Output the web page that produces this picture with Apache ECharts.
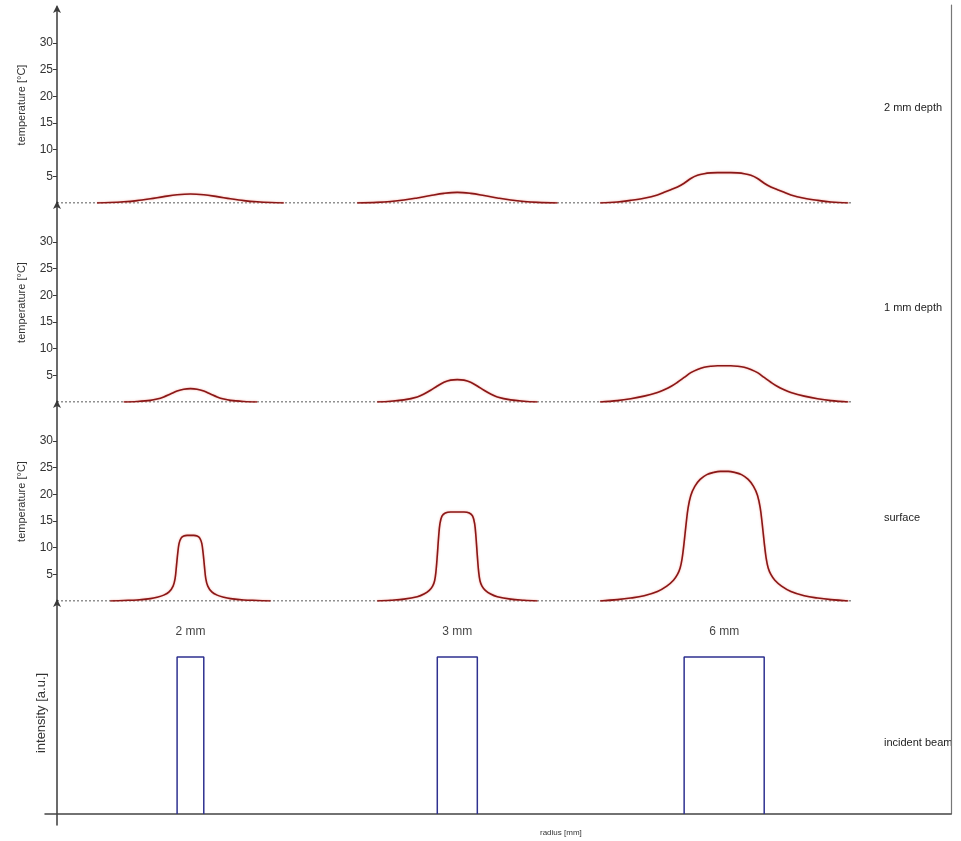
<!DOCTYPE html>
<html>
<head>
<meta charset="utf-8">
<script src="https://cdn.jsdelivr.net/npm/echarts@6/dist/echarts.min.js"></script>
<style>
html,body{margin:0;padding:0;background:#fff;}
#chart{width:961px;height:841px;}
</style>
</head>
<body>
<div id="chart"></div>
<script>
// ---------- data ----------
const beamCenters = [10, 30, 50];          // radius position of each beam [mm]
const beamWidths  = [2, 3, 6];             // beam diameters [mm]
const beamLabels  = ['2 mm', '3 mm', '6 mm'];
const beamIntensity = 1;
const panelNames  = ['2 mm depth', '1 mm depth', 'surface', 'incident beam'];
const tempTicks   = [5, 10, 15, 20, 25, 30];
const baselineEnd = 59.6;

// half profiles (offset from beam centre [mm], temperature [°C]); mirrored to the right
const d2_off = [
  [-7, -6, -5, -4, -3, -2, -1, 0],
  [-7.5, -6, -5, -4, -3, -2, -1, 0],
  [-9.3, -8, -7, -6, -5, -4.5, -4, -3.5, -3, -2.5, -2, -1.5, -1, -0.5, 0]
];
const d2_val = [
  [0, 0.08, 0.22, 0.45, 0.8, 1.2, 1.55, 1.7],
  [0, 0.12, 0.28, 0.55, 0.95, 1.4, 1.8, 2.0],
  [0, 0.2, 0.5, 0.9, 1.5, 2.0, 2.5, 3.0, 3.7, 4.6, 5.2, 5.5, 5.65, 5.7, 5.7]
];
const d1_off = [
  [-5, -4, -3, -2.5, -2, -1.5, -1, -0.5, 0],
  [-6, -5, -4, -3, -2.5, -2, -1.5, -1, -0.5, 0],
  [-9.3, -8, -7, -6, -5, -4.5, -4, -3.5, -3, -2.5, -2, -1.5, -1, -0.5, 0]
];
const d1_val = [
  [0, 0.1, 0.3, 0.55, 0.95, 1.5, 2.05, 2.4, 2.5],
  [0, 0.15, 0.4, 0.95, 1.5, 2.2, 3.0, 3.7, 4.1, 4.2],
  [0, 0.25, 0.6, 1.1, 1.8, 2.3, 2.9, 3.7, 4.6, 5.5, 6.1, 6.5, 6.7, 6.8, 6.8]
];
const sf_off = [
  [-6, -5, -4, -3, -2.5, -2, -1.6, -1.3, -1.15, -1.05, -0.95, -0.85, -0.7, -0.5, -0.25, 0],
  [-6, -5, -4, -3, -2.5, -2.1, -1.85, -1.7, -1.6, -1.5, -1.4, -1.3, -1.15, -0.9, -0.5, 0],
  [-9.3, -8, -7, -6, -5, -4.3, -3.8, -3.5, -3.3, -3.15, -3.0, -2.85, -2.7, -2.5, -2.2, -1.8, -1.3, -0.8, -0.3, 0]
];
const sf_val = [
  [0, 0.1, 0.2, 0.45, 0.7, 1.1, 1.7, 2.8, 4.2, 6.5, 9, 10.8, 11.8, 12.2, 12.3, 12.3],
  [0, 0.15, 0.35, 0.8, 1.3, 2.0, 2.8, 3.8, 5.5, 8.5, 12, 14.5, 15.9, 16.5, 16.7, 16.7],
  [0, 0.25, 0.55, 1.0, 1.8, 2.8, 3.9, 5.0, 6.2, 8, 11, 14.5, 17.5, 19.8, 21.5, 22.8, 23.7, 24.1, 24.3, 24.3]
];

// ---------- build ----------
function profile(center, offs, vals) {
  const left = offs.map((o, i) => [center + o, vals[i]]);
  const right = [];
  for (let i = offs.length - 2; i >= 0; i--) right.push([center - offs[i], vals[i]]);
  return left.concat(right);
}
const FONT = 'Liberation Sans, Arial, sans-serif';
const curveColor = '#8a1717';
const beamColor = '#2e3190';
const axisColor = '#3a3a3a';

const tempPanels = [
  {top: 7,   height: 196, max: 196 / 5.333, off: d2_off, val: d2_val},
  {top: 203, height: 199, max: 199 / 5.333, off: d1_off, val: d1_val},
  {top: 402, height: 199, max: 199 / 5.333, off: sf_off, val: sf_val}
];

const grid = [], xAxis = [], yAxis = [], series = [];
tempPanels.forEach((p, k) => {
  grid.push({left: 57, right: 10, top: p.top, height: p.height});
  xAxis.push({type: 'value', gridIndex: k, min: 0, max: 67, show: false});
  yAxis.push({
    type: 'value', gridIndex: k, min: 0, max: p.max,
    name: 'temperature [°C]', nameLocation: 'middle', nameGap: 30,
    nameTextStyle: {fontFamily: FONT, fontSize: 11, color: '#333'},
    axisLine: {show: true, onZero: false, symbol: ['none', 'arrow'], symbolSize: [6, 8], symbolOffset: [0, 2],
               lineStyle: {color: axisColor, width: 1.5}},
    axisTick: {show: true, length: 4, customValues: tempTicks, lineStyle: {color: axisColor}},
    axisLabel: {show: true, customValues: tempTicks, margin: 4, fontFamily: FONT, fontSize: 12, color: '#333'},
    splitLine: {show: false}
  });
  series.push({
    type: 'line', xAxisIndex: k, yAxisIndex: k, showSymbol: false, silent: true,
    data: [[0, 0], [baselineEnd, 0]],
    lineStyle: {color: '#222', width: 1, type: [2, 2]}, z: 1
  });
  beamCenters.forEach((c, j) => {
    series.push({
      type: 'line', xAxisIndex: k, yAxisIndex: k, showSymbol: false, smooth: 0.35, silent: true,
      data: profile(c, p.off[j], p.val[j]),
      lineStyle: {color: curveColor, width: 1.6, shadowColor: 'rgba(230,90,70,0.55)', shadowBlur: 2},
      z: 3
    });
  });
});

// beam panel
grid.push({left: 45, right: 10, top: 601, height: 224});
xAxis.push({
  type: 'value', gridIndex: 3, min: -0.9, max: 67,
  axisLine: {show: true, onZero: true, lineStyle: {color: '#444', width: 1.5}},
  axisTick: {show: false}, axisLabel: {show: false}, splitLine: {show: false}
});
yAxis.push({
  type: 'value', gridIndex: 3, min: -0.07, max: 1.357,
  name: 'intensity [a.u.]', nameLocation: 'middle', nameGap: -3,
  nameTextStyle: {fontFamily: FONT, fontSize: 13, color: '#333'},
  axisLine: {show: true, onZero: true, symbol: ['none', 'arrow'], symbolSize: [6, 8], symbolOffset: [0, 2],
             lineStyle: {color: axisColor, width: 1.5}},
  axisTick: {show: false}, axisLabel: {show: false}, splitLine: {show: false}
});
beamCenters.forEach((c, j) => {
  const h = beamWidths[j] / 2;
  series.push({
    type: 'line', xAxisIndex: 3, yAxisIndex: 3, showSymbol: false, silent: true,
    data: [[c - h, 0], [c - h, beamIntensity], [c + h, beamIntensity], [c + h, 0]],
    lineStyle: {color: beamColor, width: 1.5}, z: 3
  });
});
series.push({
  type: 'scatter', xAxisIndex: 3, yAxisIndex: 3, symbolSize: 0, silent: true,
  data: beamCenters.map((c, j) => ({value: [c, 1.16], name: beamLabels[j]})),
  label: {show: true, position: 'inside', formatter: p => p.name,
          fontFamily: FONT, fontSize: 12, color: '#111'}
});

// frame: right border
grid.push({left: 57, right: 10, top: 5, bottom: 27});
xAxis.push({type: 'value', gridIndex: 4, min: 0, max: 1, show: false});
yAxis.push({
  type: 'value', gridIndex: 4, position: 'right', min: 0, max: 1,
  axisLine: {show: true, onZero: false, lineStyle: {color: '#777', width: 1.2}},
  axisTick: {show: false}, axisLabel: {show: false}, splitLine: {show: false}
});

const labelTops = [102, 302, 512, 737];
const graphic = panelNames.map((t, i) => ({
  type: 'text', left: 884, top: labelTops[i],
  style: {text: t, font: '11px ' + FONT, fill: '#222'}
}));
graphic.push({
  type: 'text', left: 540, top: 829,
  style: {text: 'radius [mm]', font: '8px ' + FONT, fill: '#333'}
});

const chart = echarts.init(document.getElementById('chart'));
chart.setOption({
  animation: false,
  backgroundColor: '#fff',
  grid, xAxis, yAxis, series, graphic
});
</script>
</body>
</html>
